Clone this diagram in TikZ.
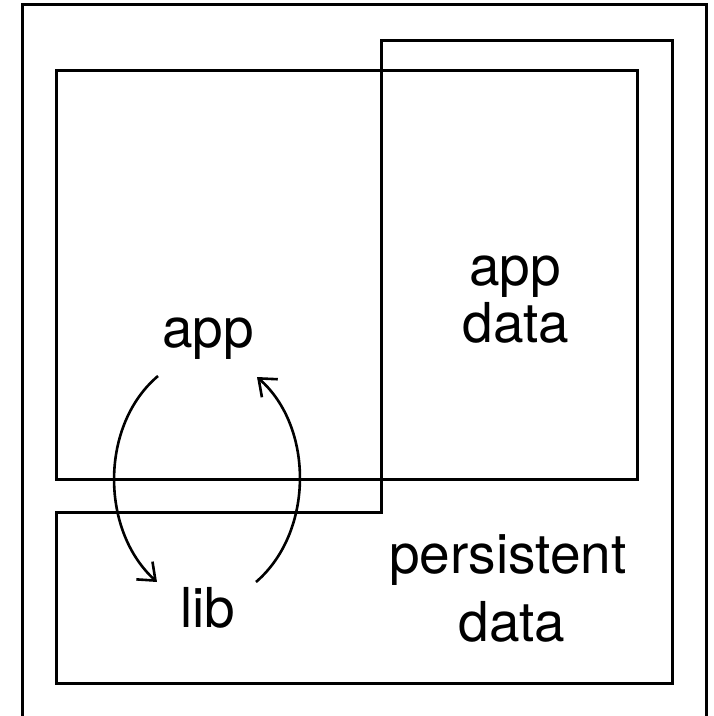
\documentclass[tikz,border=0pt]{standalone}
\usepackage{fontspec}
\setmainfont{TeX Gyre Heros}
\usetikzlibrary{arrows.meta}
\begin{document}
\begin{tikzpicture}[x=1pt,y=-1pt,line width=3pt,
  box/.style={draw=black,line join=miter},
  lbl/.style={font=\fontsize{55}{62}\selectfont,anchor=base,inner sep=0pt},
  flow/.style={draw=black,line width=2.6pt,-{Straight Barb[length=15pt,width=24pt,line width=2.6pt]}}]
\useasboundingbox (0,0) rectangle (714,716);
% outer frame (bottom edge is cropped)
\draw[box] (22,720) -- (22,4) -- (706,4) -- (706,720);
% app box
\draw[box] (56,70) rectangle (637,479);
% persistent data (L-shaped)
\draw[box] (56,512) -- (381,512) -- (381,40) -- (672,40) -- (672,683) -- (56,683) -- cycle;
% labels
\node[lbl] (app) at (208,347) {app};
\node[lbl] (lib) at (208,627) {lib};
\node[lbl] (appdata1) at (515,285) {app};
\node[lbl] (appdata2) at (516,342) {data};
\node[lbl] (pers1) at (508,573) {persistent};
\node[lbl] (pers2) at (512,641) {data};
% arrow endpoints
\coordinate (a1) at (158,376);
\coordinate (b1) at (157,582);
\coordinate (b2) at (256,582);
\coordinate (a2) at (257,377);
\draw[flow] (a1) .. controls (100,425) and (100,530) .. (b1);
\draw[flow] (b2) .. controls (314,532) and (314,427) .. (a2);
\end{tikzpicture}
\end{document}
